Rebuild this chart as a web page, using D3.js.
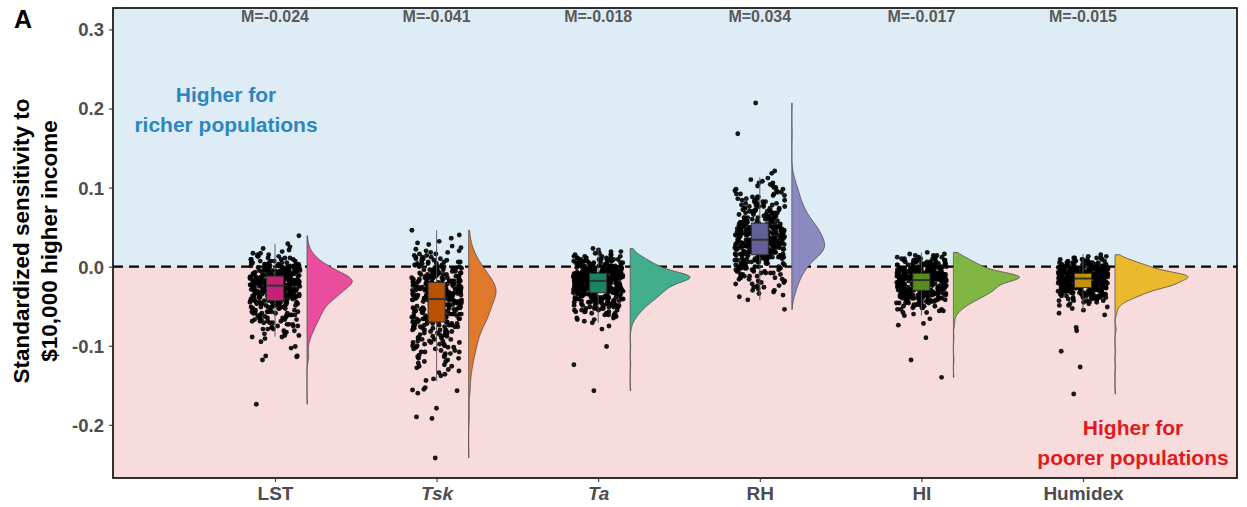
<!DOCTYPE html>
<html>
<head>
<meta charset="utf-8">
<script src="https://cdn.jsdelivr.net/npm/d3@7"></script>
<style>
  body { margin: 0; background: #fff; }
  svg { display: block; font-family: "Liberation Sans", Arial, Helvetica, sans-serif; }
</style>
</head>
<body>
<svg id="chart" width="1247" height="507"></svg>
<script>
// ---- data -------------------------------------------------------------
const categories = ["LST", "Tsk", "Ta", "RH", "HI", "Humidex"];
const italicCategories = ["Tsk", "Ta"];

// median of each distribution (printed as M=...)
const medians     = [-0.024, -0.041, -0.018, 0.034, -0.017, -0.015];
const boxQ1       = [-0.043, -0.070, -0.033, 0.015, -0.030, -0.0265];
const boxQ3       = [-0.012, -0.020, -0.0085, 0.055, -0.0085, -0.0085];
const whiskerLow  = [-0.0885, -0.145, -0.071, -0.042, -0.062, -0.055];
const whiskerHigh = [0.029, 0.046, 0.023, 0.113, 0.018, 0.016];

// city-level estimates: counts per 0.002-wide bin starting at coreStart,
// plus the individual values lying outside that core range
const binWidth  = 0.002;
const coreStart = [-0.089, -0.144, -0.071, -0.042, -0.062, -0.055];

const lstCounts = [2, 2,1,2,2,3,2,3,3,3,4,4,4,5,4,5,5,6,5,6,6,7,7,8,
  9,10,10,11,11,12,12,13,13, 15,16,17,17,17,16,
  12,11,11,10,9,8,7,6,5,4,4,3,3,2,2,1,1,1,1,0,1];
const tskCounts = [1,1,0,1,1,1,1,1,1,2,1,1,2,1,2,2,2,2,3,2,2,3,3,3,3,3,3,3,3,4,4,4,4,4,5,5,5,
  6,6,7,7,7,7,7,7,7,7,7,8,8,8,8,
  9,9,10,10,10,10,10,10,9,9,9,
  8,8,7,7,7,6,6,5,5,5,4,4,4,3,3,3,2,2,2,2,1,1,1,1,1,1,0,1,0,1,0,0,1];
const taCounts = [1,1,2,2,2,3,3,4,4,5,5,6,7,7,8,9,10,10,11,
  11,12,13,13,14,15,15,16,
  23,24,25,24,23,
  14,12,12,11,10,9,8,7,6,5,4,3,2,2,1,1];
const rhCounts = [1,0,1,1,1,1,2,1,2,2,2,2,2,3,3,3,3,4,4,4,5,5,5,6,6,7,7,8,8,
  11,11,11,11,11,11,11,11,12,
  10,10,10,9,9,9,9,9,9,8,8,
  7,6,6,6,5,5,5,5,4,4,4,4,3,3,3,3,3,2,3,2,2,2,2,2,1,2,1,1,1];
const hiCounts = [1,1,2,2,3,3,4,5,6,7,8,9,10,11,12,13,
  14,14,15,15,15,16,16,
  26,26,26,27,
  14,13,12,11,10,9,8,7,6,5,4,3,2,1];
const humidexCounts = [1,1,1,2,2,3,4,6,7,8,9,11,12,13,15,
  20,21,21,21,22,
  26,26,26,27,
  16,15,14,13,11,10,8,6,5,4,2,1];

const lstOutliers     = [-0.174, -0.118, -0.114, -0.113, -0.113, -0.103, -0.101, -0.095, -0.091, 0.039];
const tskOutliers     = [-0.242, -0.192, -0.190, -0.179, -0.160, -0.157, -0.156, -0.155, -0.153];
const taOutliers      = [-0.157, -0.124, -0.101, -0.079, -0.075];
const rhOutliers      = [-0.054, 0.118, 0.121, 0.168, 0.207];
const hiOutliers      = [-0.140, -0.118, -0.090, -0.074, -0.072, -0.066];
const humidexOutliers = [-0.161, -0.127, -0.107, -0.081, -0.077, -0.061, -0.059];

const yTicks = [-0.2, -0.1, 0.0, 0.1, 0.2, 0.3];
const palette = ["#E7298A", "#D95F02", "#1B9E77", "#7570B3", "#66A61E", "#E6AB02"];

const countsByCat   = [lstCounts, tskCounts, taCounts, rhCounts, hiCounts, humidexCounts];
const outliersByCat = [lstOutliers, tskOutliers, taOutliers, rhOutliers, hiOutliers, humidexOutliers];

// ---- layout -----------------------------------------------------------
const panel = { left: 113, right: 1237, top: 8, bottom: 478 };
const svg = d3.select("#chart");

const y = d3.scaleLinear().domain([-0.2673, 0.3271]).range([panel.bottom, panel.top]);
const x = d3.scalePoint().domain(categories).range([panel.left + 162, panel.right - 154]);

const jitterHalf = 25, boxHalf = 8.5, violinGap = 32, violinMaxWidth = 73;

// expand binned counts into individual values
const series = categories.map((c, ci) => {
  const vals = [];
  countsByCat[ci].forEach((n, i) => {
    const v = +(coreStart[ci] + i * binWidth).toFixed(4);
    for (let j = 0; j < n; j++) vals.push(v);
  });
  outliersByCat[ci].forEach(v => vals.push(v));
  vals.sort(d3.ascending);
  return { cat: c, ci, vals };
});

// gaussian kernel density, bandwidth by Silverman's rule (nrd0)
function bwNrd0(v) {
  const sd = d3.deviation(v);
  const iqr = (d3.quantile(v, 0.75) - d3.quantile(v, 0.25)) / 1.34;
  const lo = Math.min(sd, iqr) || sd;
  return 0.9 * lo * Math.pow(v.length, -0.2);
}
function kde(v, n) {
  const bw = bwNrd0(v), lo = v[0], hi = v[v.length - 1];
  const out = [];
  for (let k = 0; k <= n; k++) {
    const t = lo + (hi - lo) * k / n;
    let s = 0;
    for (const xi of v) { const z = (t - xi) / bw; s += Math.exp(-0.5 * z * z); }
    out.push([t, s / (v.length * bw * Math.sqrt(2 * Math.PI))]);
  }
  return out;
}
series.forEach(s => { s.density = kde(s.vals, 300); });
const maxDensity = d3.max(series, s => d3.max(s.density, d => d[1]));
const wScale = d3.scaleLinear().domain([0, maxDensity]).range([0, violinMaxWidth]);

// deterministic horizontal jitter: integer hash of the point index -> [0,1)
function jitter01(n) {
  let h = Math.imul(n + 1, 0x9E3779B1);
  h ^= h >>> 15; h = Math.imul(h, 0x2C1B3C6D);
  h ^= h >>> 12; h = Math.imul(h, 0x297A2D39);
  h ^= h >>> 15;
  return (h >>> 0) / 4294967296;
}

// ---- background bands ---------------------------------------------------
svg.append("rect")
  .attr("x", panel.left).attr("y", panel.top)
  .attr("width", panel.right - panel.left).attr("height", y(0) - panel.top)
  .attr("fill", "#deedf5");
svg.append("rect")
  .attr("x", panel.left).attr("y", y(0))
  .attr("width", panel.right - panel.left).attr("height", panel.bottom - y(0))
  .attr("fill", "#f8dcdd");

// zero reference line
svg.append("line")
  .attr("x1", panel.left).attr("x2", panel.right)
  .attr("y1", y(0)).attr("y2", y(0))
  .attr("stroke", "#000").attr("stroke-width", 2.4)
  .attr("stroke-dasharray", "10,6");

// ---- half violins -------------------------------------------------------
const violinColor = c => d3.interpolateRgb(c, "#ffffff")(0.17);
series.forEach(s => {
  const x0 = x(s.cat) + violinGap;
  const area = d3.area()
    .y(d => y(d[0]))
    .x0(x0)
    .x1(d => x0 + wScale(d[1]));
  svg.append("path")
    .datum(s.density)
    .attr("d", area)
    .attr("fill", violinColor(palette[s.ci]))
    .attr("stroke", "#4a4a4a")
    .attr("stroke-width", 0.8);
});

// ---- jittered points ----------------------------------------------------
series.forEach(s => {
  const cx = x(s.cat);
  svg.append("g").selectAll("circle")
    .data(s.vals)
    .join("circle")
    .attr("cx", (d, i) => cx + (jitter01(s.ci * 10007 + i) * 2 - 1) * jitterHalf)
    .attr("cy", d => y(d))
    .attr("r", 2.45)
    .attr("fill", "#000")
    .attr("fill-opacity", 0.9);
});

// ---- boxplots -----------------------------------------------------------
categories.forEach((c, ci) => {
  const cx = x(c);
  const g = svg.append("g");
  g.append("line")
    .attr("x1", cx).attr("x2", cx)
    .attr("y1", y(whiskerHigh[ci])).attr("y2", y(boxQ3[ci]))
    .attr("stroke", "#555").attr("stroke-width", 0.9);
  g.append("line")
    .attr("x1", cx).attr("x2", cx)
    .attr("y1", y(boxQ1[ci])).attr("y2", y(whiskerLow[ci]))
    .attr("stroke", "#555").attr("stroke-width", 0.9);
  g.append("rect")
    .attr("x", cx - boxHalf).attr("width", boxHalf * 2)
    .attr("y", y(boxQ3[ci])).attr("height", y(boxQ1[ci]) - y(boxQ3[ci]))
    .attr("fill", d3.interpolateRgb(palette[ci], "#000")(0.15))
    .attr("stroke", "#333").attr("stroke-width", 1);
  g.append("line")
    .attr("x1", cx - boxHalf).attr("x2", cx + boxHalf)
    .attr("y1", y(medians[ci])).attr("y2", y(medians[ci]))
    .attr("stroke", "#333").attr("stroke-width", 2);
});

// median labels along the top
svg.append("g").selectAll("text")
  .data(categories)
  .join("text")
  .attr("x", d => x(d))
  .attr("y", 22)
  .attr("text-anchor", "middle")
  .attr("font-size", 16).attr("font-weight", "bold")
  .attr("fill", "#595959")
  .text((d, i) => "M=" + medians[i].toFixed(3));

// ---- annotations --------------------------------------------------------
const richer = svg.append("text")
  .attr("text-anchor", "middle").attr("font-size", 21).attr("font-weight", "bold")
  .attr("fill", "#2e86c1");
richer.append("tspan").attr("x", 226).attr("y", 102).text("Higher for");
richer.append("tspan").attr("x", 226).attr("y", 132).text("richer populations");

const poorer = svg.append("text")
  .attr("text-anchor", "middle").attr("font-size", 21).attr("font-weight", "bold")
  .attr("fill", "#e31a1c");
poorer.append("tspan").attr("x", 1133).attr("y", 435).text("Higher for");
poorer.append("tspan").attr("x", 1133).attr("y", 465).text("poorer populations");

// ---- panel border -------------------------------------------------------
svg.append("rect")
  .attr("x", panel.left).attr("y", panel.top)
  .attr("width", panel.right - panel.left).attr("height", panel.bottom - panel.top)
  .attr("fill", "none").attr("stroke", "#000").attr("stroke-width", 1.6);

// ---- axes ---------------------------------------------------------------
const yAxis = svg.append("g")
  .attr("transform", `translate(${panel.left},0)`)
  .call(d3.axisLeft(y).tickValues(yTicks).tickSize(4).tickPadding(5)
    .tickFormat(d => d.toFixed(1)));
yAxis.select(".domain").remove();
yAxis.selectAll(".tick line").attr("stroke", "#333").attr("stroke-width", 1.1);
yAxis.selectAll(".tick text")
  .attr("font-family", null)
  .attr("font-size", 18.5).attr("font-weight", "bold").attr("fill", "#4d4d4d")
  .attr("dy", "0.35em");

const xAxis = svg.append("g")
  .attr("transform", `translate(0,${panel.bottom})`)
  .call(d3.axisBottom(x).tickSize(4));
xAxis.select(".domain").remove();
xAxis.selectAll(".tick line").attr("stroke", "#333").attr("stroke-width", 1.1);
xAxis.selectAll(".tick text")
  .attr("font-family", null)
  .attr("y", 22).attr("dy", null)
  .attr("font-size", 19).attr("font-weight", "bold").attr("fill", "#4d4d4d")
  .attr("font-style", d => italicCategories.includes(d) ? "italic" : "normal");

// y-axis title
const yTitle = svg.append("g").attr("transform", "translate(0,241) rotate(-90)");
yTitle.append("text")
  .attr("x", 0).attr("y", 29)
  .attr("text-anchor", "middle").attr("font-size", 22.5).attr("font-weight", "bold")
  .attr("fill", "#000")
  .text("Standardized sensitivity to");
yTitle.append("text")
  .attr("x", 0).attr("y", 57)
  .attr("text-anchor", "middle").attr("font-size", 22.5).attr("font-weight", "bold")
  .attr("fill", "#000")
  .text("$10,000 higher income");

// panel tag
svg.append("text")
  .attr("x", 14).attr("y", 28)
  .attr("font-size", 25).attr("font-weight", "bold").attr("fill", "#000")
  .text("A");
</script>
</body>
</html>
